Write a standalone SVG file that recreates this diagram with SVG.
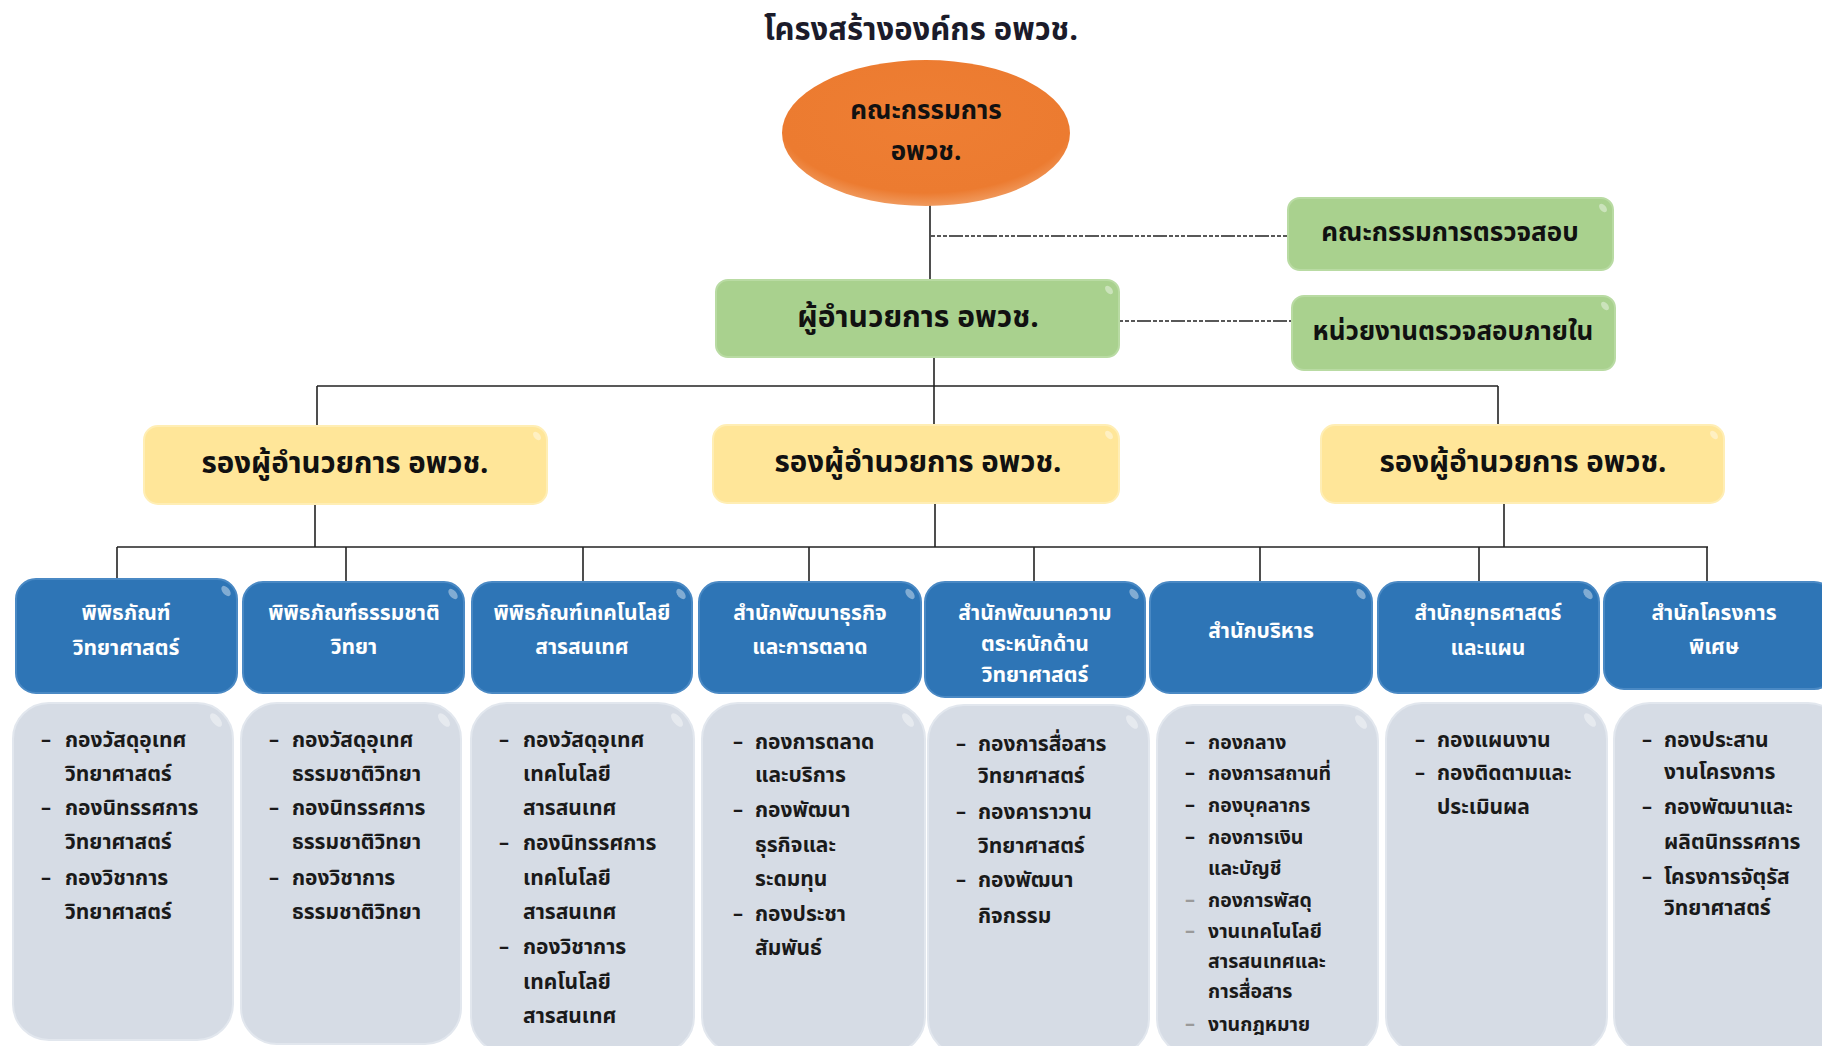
<svg xmlns="http://www.w3.org/2000/svg" width="1822" height="1046" viewBox="0 0 1822 1046">
<defs>
<radialGradient id="gOr" cx="50%" cy="40%" r="60%">
<stop offset="0" stop-color="#EE7E33"/><stop offset="0.85" stop-color="#EC7B30"/><stop offset="1" stop-color="#F09A5E"/>
</radialGradient>
<style>
text{font-family:'Noto Sans Thai','Noto Sans','DejaVu Sans',sans-serif}
.title{font-size:31px;font-weight:bold;fill:#1b1b2a;text-anchor:middle}
.ell{font-size:26px;font-weight:bold;fill:#111;text-anchor:middle}
.gt{font-size:26px;font-weight:bold;fill:#111;text-anchor:middle}
.dir{font-size:30px;font-weight:bold;fill:#111;text-anchor:middle}
.yt{font-size:29.5px;font-weight:bold;fill:#111;text-anchor:middle}
.bt{font-size:21px;font-weight:bold;fill:#fff;text-anchor:middle}
.lt{font-size:21px;font-weight:bold;fill:#1a1a1a}
.ls{font-size:19.5px;font-weight:bold;fill:#1a1a1a}
.dash{font-size:20px;font-weight:bold;fill:#1a1a1a}
.dl{fill:#9a9a9a}
.green{fill:#A9D18E;stroke:#B9DBA3;stroke-width:2}
.yellow{fill:#FFE699;stroke:#FFEEB5;stroke-width:2}
.blue{fill:#2E75B6;stroke:#4A89C4;stroke-width:2}
.gray{fill:#D6DCE5;stroke:#E2E7EE;stroke-width:2}
.hl{fill:#fff;opacity:0.4}
.con{stroke:#222;stroke-width:1.6;fill:none}
.dsh{stroke:#222;stroke-width:1.4;fill:none;stroke-dasharray:4 2 4 2 4 2 14 2}
</style>
</defs>
<rect width="1822" height="1046" fill="#fff"/>
<text class="title" x="921" y="40">โครงสร้างองค์กร อพวช.</text>

<g id="connectors">
<line class="con" x1="930" y1="205" x2="930" y2="281"/>
<line class="dsh" x1="931" y1="236" x2="1288" y2="236"/>
<line class="dsh" x1="1119" y1="321" x2="1292" y2="321"/>
<line class="con" x1="934" y1="357" x2="934" y2="386"/>
<line class="con" x1="317" y1="386" x2="1498" y2="386"/>
<line class="con" x1="317" y1="386" x2="317" y2="426"/>
<line class="con" x1="934" y1="386" x2="934" y2="425"/>
<line class="con" x1="1498" y1="386" x2="1498" y2="425"/>
<line class="con" x1="315" y1="504" x2="315" y2="547"/>
<line class="con" x1="935" y1="503" x2="935" y2="547"/>
<line class="con" x1="1504" y1="503" x2="1504" y2="547"/>
<line class="con" x1="117" y1="547" x2="1708" y2="547"/>
<line class="con" x1="117" y1="547" x2="117" y2="580"/>
<line class="con" x1="346" y1="547" x2="346" y2="583"/>
<line class="con" x1="583" y1="547" x2="583" y2="583"/>
<line class="con" x1="809" y1="547" x2="809" y2="583"/>
<line class="con" x1="1034" y1="547" x2="1034" y2="583"/>
<line class="con" x1="1260" y1="547" x2="1260" y2="583"/>
<line class="con" x1="1479" y1="547" x2="1479" y2="583"/>
<line class="con" x1="1707" y1="547" x2="1707" y2="583"/>
</g>

<g id="board">
<ellipse cx="926" cy="133" rx="144" ry="73" fill="url(#gOr)"/>
<text class="ell" x="926" y="119">คณะกรรมการ</text>
<text class="ell" x="926" y="160">อพวช.</text>
</g>

<g id="audit-committee">
<rect class="green" x="1288" y="198" width="325" height="72" rx="12"/>
<ellipse class="hl" cx="1603" cy="208" rx="5" ry="3" transform="rotate(50 1603 208)"/>
<text class="gt" x="1450" y="241">คณะกรรมการตรวจสอบ</text>
</g>
<g id="director">
<rect class="green" x="716" y="280" width="403" height="77" rx="12"/>
<ellipse class="hl" cx="1109" cy="290" rx="5" ry="3" transform="rotate(50 1109 290)"/>
<text class="dir" x="918" y="327">ผู้อำนวยการ อพวช.</text>
</g>
<g id="internal-audit">
<rect class="green" x="1292" y="296" width="323" height="74" rx="12"/>
<ellipse class="hl" cx="1605" cy="306" rx="5" ry="3" transform="rotate(50 1605 306)"/>
<text class="gt" x="1453" y="340">หน่วยงานตรวจสอบภายใน</text>
</g>

<g id="deputy-1">
<rect class="yellow" x="144" y="426" width="403" height="78" rx="14"/>
<ellipse class="hl" cx="537" cy="436" rx="5" ry="3" transform="rotate(50 537 436)"/>
<text class="yt" x="345" y="473">รองผู้อำนวยการ อพวช.</text>
</g>
<g id="deputy-2">
<rect class="yellow" x="713" y="425" width="406" height="78" rx="14"/>
<ellipse class="hl" cx="1109" cy="435" rx="5" ry="3" transform="rotate(50 1109 435)"/>
<text class="yt" x="918" y="472">รองผู้อำนวยการ อพวช.</text>
</g>
<g id="deputy-3">
<rect class="yellow" x="1321" y="425" width="403" height="78" rx="14"/>
<ellipse class="hl" cx="1714" cy="435" rx="5" ry="3" transform="rotate(50 1714 435)"/>
<text class="yt" x="1523" y="472">รองผู้อำนวยการ อพวช.</text>
</g>

<g id="unit-1">
<rect class="blue" x="16" y="579" width="221" height="114" rx="20"/>
<ellipse class="hl" cx="226" cy="591" rx="6" ry="3.5" transform="rotate(50 226 591)"/>
<text class="bt" x="126" y="620">พิพิธภัณฑ์</text>
<text class="bt" x="126" y="655">วิทยาศาสตร์</text>
</g>
<g id="unit-2">
<rect class="blue" x="243" y="582" width="221" height="111" rx="20"/>
<ellipse class="hl" cx="453" cy="594" rx="6" ry="3.5" transform="rotate(50 453 594)"/>
<text class="bt" x="354" y="620">พิพิธภัณฑ์ธรรมชาติ</text>
<text class="bt" x="354" y="654">วิทยา</text>
</g>
<g id="unit-3">
<rect class="blue" x="472" y="582" width="220" height="111" rx="20"/>
<ellipse class="hl" cx="681" cy="594" rx="6" ry="3.5" transform="rotate(50 681 594)"/>
<text class="bt" x="582" y="620">พิพิธภัณฑ์เทคโนโลยี</text>
<text class="bt" x="582" y="654">สารสนเทศ</text>
</g>
<g id="unit-4">
<rect class="blue" x="699" y="582" width="222" height="111" rx="20"/>
<ellipse class="hl" cx="910" cy="594" rx="6" ry="3.5" transform="rotate(50 910 594)"/>
<text class="bt" x="810" y="620">สำนักพัฒนาธุรกิจ</text>
<text class="bt" x="810" y="654">และการตลาด</text>
</g>
<g id="unit-5">
<rect class="blue" x="925" y="582" width="220" height="115" rx="20"/>
<ellipse class="hl" cx="1134" cy="594" rx="6" ry="3.5" transform="rotate(50 1134 594)"/>
<text class="bt" x="1035" y="620">สำนักพัฒนาความ</text>
<text class="bt" x="1035" y="651">ตระหนักด้าน</text>
<text class="bt" x="1035" y="682">วิทยาศาสตร์</text>
</g>
<g id="unit-6">
<rect class="blue" x="1150" y="582" width="222" height="111" rx="20"/>
<ellipse class="hl" cx="1361" cy="594" rx="6" ry="3.5" transform="rotate(50 1361 594)"/>
<text class="bt" x="1261" y="638">สำนักบริหาร</text>
</g>
<g id="unit-7">
<rect class="blue" x="1378" y="582" width="221" height="111" rx="20"/>
<ellipse class="hl" cx="1588" cy="594" rx="6" ry="3.5" transform="rotate(50 1588 594)"/>
<text class="bt" x="1488" y="620">สำนักยุทธศาสตร์</text>
<text class="bt" x="1488" y="655">และแผน</text>
</g>
<g id="unit-8">
<rect class="blue" x="1604" y="582" width="230" height="107" rx="20"/>
<text class="bt" x="1714" y="620">สำนักโครงการ</text>
<text class="bt" x="1714" y="654">พิเศษ</text>
</g>

<g id="list-1">
<rect class="gray" x="13" y="703" width="220" height="337" rx="36"/>
<ellipse class="hl" cx="216" cy="720" rx="8" ry="4" transform="rotate(50 216 720)"/>
<text class="dash" x="41" y="746">–</text><text class="lt" x="65" y="747">กองวัสดุอุเทศ</text>
<text class="lt" x="65" y="781">วิทยาศาสตร์</text>
<text class="dash" x="41" y="814">–</text><text class="lt" x="65" y="815">กองนิทรรศการ</text>
<text class="lt" x="65" y="849">วิทยาศาสตร์</text>
<text class="dash" x="41" y="884">–</text><text class="lt" x="65" y="885">กองวิชาการ</text>
<text class="lt" x="65" y="919">วิทยาศาสตร์</text>
</g>
<g id="list-2">
<rect class="gray" x="241" y="703" width="220" height="341" rx="36"/>
<ellipse class="hl" cx="444" cy="720" rx="8" ry="4" transform="rotate(50 444 720)"/>
<text class="dash" x="269" y="746">–</text><text class="lt" x="292" y="747">กองวัสดุอุเทศ</text>
<text class="lt" x="292" y="781">ธรรมชาติวิทยา</text>
<text class="dash" x="269" y="814">–</text><text class="lt" x="292" y="815">กองนิทรรศการ</text>
<text class="lt" x="292" y="849">ธรรมชาติวิทยา</text>
<text class="dash" x="269" y="884">–</text><text class="lt" x="292" y="885">กองวิชาการ</text>
<text class="lt" x="292" y="919">ธรรมชาติวิทยา</text>
</g>
<g id="list-3">
<rect class="gray" x="471" y="703" width="223" height="350" rx="36"/>
<ellipse class="hl" cx="677" cy="720" rx="8" ry="4" transform="rotate(50 677 720)"/>
<text class="dash" x="499" y="746">–</text><text class="lt" x="523" y="747">กองวัสดุอุเทศ</text>
<text class="lt" x="523" y="781">เทคโนโลยี</text>
<text class="lt" x="523" y="815">สารสนเทศ</text>
<text class="dash" x="499" y="849">–</text><text class="lt" x="523" y="850">กองนิทรรศการ</text>
<text class="lt" x="523" y="885">เทคโนโลยี</text>
<text class="lt" x="523" y="919">สารสนเทศ</text>
<text class="dash" x="499" y="953">–</text><text class="lt" x="523" y="954">กองวิชาการ</text>
<text class="lt" x="523" y="989">เทคโนโลยี</text>
<text class="lt" x="523" y="1023">สารสนเทศ</text>
</g>
<g id="list-4">
<rect class="gray" x="702" y="703" width="223" height="350" rx="36"/>
<ellipse class="hl" cx="908" cy="720" rx="8" ry="4" transform="rotate(50 908 720)"/>
<text class="dash" x="733" y="748">–</text><text class="lt" x="755" y="749">กองการตลาด</text>
<text class="lt" x="755" y="782">และบริการ</text>
<text class="dash" x="733" y="816">–</text><text class="lt" x="755" y="817">กองพัฒนา</text>
<text class="lt" x="755" y="852">ธุรกิจและ</text>
<text class="lt" x="755" y="886">ระดมทุน</text>
<text class="dash" x="733" y="920">–</text><text class="lt" x="755" y="921">กองประชา</text>
<text class="lt" x="755" y="955">สัมพันธ์</text>
</g>
<g id="list-5">
<rect class="gray" x="928" y="705" width="221" height="350" rx="36"/>
<ellipse class="hl" cx="1132" cy="722" rx="8" ry="4" transform="rotate(50 1132 722)"/>
<text class="dash" x="956" y="750">–</text><text class="lt" x="978" y="751">กองการสื่อสาร</text>
<text class="lt" x="978" y="783">วิทยาศาสตร์</text>
<text class="dash" x="956" y="818">–</text><text class="lt" x="978" y="819">กองคาราวาน</text>
<text class="lt" x="978" y="853">วิทยาศาสตร์</text>
<text class="dash" x="956" y="886">–</text><text class="lt" x="978" y="887">กองพัฒนา</text>
<text class="lt" x="978" y="923">กิจกรรม</text>
</g>
<g id="list-6">
<rect class="gray" x="1157" y="705" width="221" height="350" rx="36"/>
<ellipse class="hl" cx="1361" cy="722" rx="8" ry="4" transform="rotate(50 1361 722)"/>
<text class="dash" x="1185" y="748">–</text><text class="ls" x="1208" y="749">กองกลาง</text>
<text class="dash" x="1185" y="779">–</text><text class="ls" x="1208" y="780">กองการสถานที่</text>
<text class="dash" x="1185" y="811">–</text><text class="ls" x="1208" y="812">กองบุคลากร</text>
<text class="dash" x="1185" y="843">–</text><text class="ls" x="1208" y="844">กองการเงิน</text>
<text class="ls" x="1208" y="875">และบัญชี</text>
<text class="dash dl" x="1185" y="906">–</text><text class="ls" x="1208" y="907">กองการพัสดุ</text>
<text class="dash dl" x="1185" y="937">–</text><text class="ls" x="1208" y="938">งานเทคโนโลยี</text>
<text class="ls" x="1208" y="968">สารสนเทศและ</text>
<text class="ls" x="1208" y="998">การสื่อสาร</text>
<text class="dash dl" x="1185" y="1030">–</text><text class="ls" x="1208" y="1031">งานกฎหมาย</text>
</g>
<g id="list-7">
<rect class="gray" x="1386" y="703" width="221" height="350" rx="36"/>
<ellipse class="hl" cx="1590" cy="720" rx="8" ry="4" transform="rotate(50 1590 720)"/>
<text class="dash" x="1415" y="746">–</text><text class="lt" x="1437" y="747">กองแผนงาน</text>
<text class="dash" x="1415" y="779">–</text><text class="lt" x="1437" y="780">กองติดตามและ</text>
<text class="lt" x="1437" y="814">ประเมินผล</text>
</g>
<g id="list-8">
<rect class="gray" x="1614" y="703" width="230" height="350" rx="36"/>
<text class="dash" x="1642" y="746">–</text><text class="lt" x="1664" y="747">กองประสาน</text>
<text class="lt" x="1664" y="779">งานโครงการ</text>
<text class="dash" x="1642" y="813">–</text><text class="lt" x="1664" y="814">กองพัฒนาและ</text>
<text class="lt" x="1664" y="849">ผลิตนิทรรศการ</text>
<text class="dash" x="1642" y="883">–</text><text class="lt" x="1664" y="884">โครงการจัตุรัส</text>
<text class="lt" x="1664" y="915">วิทยาศาสตร์</text>
</g>
</svg>
